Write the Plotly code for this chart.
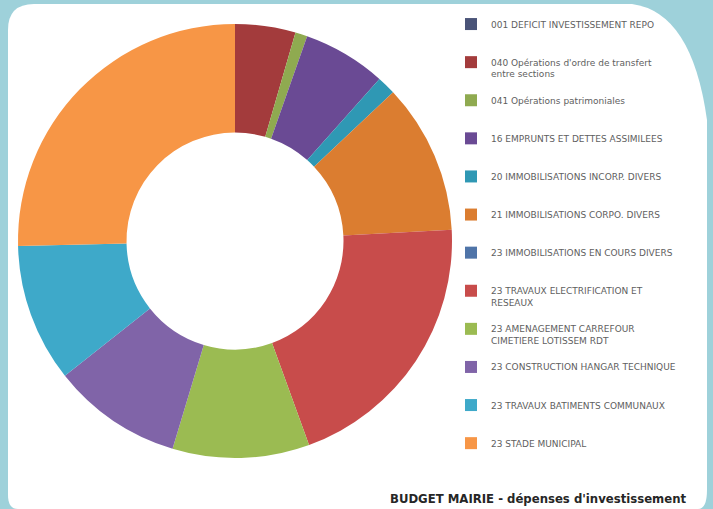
import plotly.graph_objects as go

W, H = 713, 509

labels = [
    "001 DEFICIT INVESTISSEMENT REPO",
    "040 Opérations d'ordre de transfert<br>entre sections",
    "041 Opérations patrimoniales",
    "16 EMPRUNTS ET DETTES ASSIMILEES",
    "20 IMMOBILISATIONS INCORP. DIVERS",
    "21 IMMOBILISATIONS CORPO. DIVERS",
    "23 IMMOBILISATIONS EN COURS DIVERS",
    "23 TRAVAUX ELECTRIFICATION ET<br>RESEAUX",
    "23 AMENAGEMENT CARREFOUR<br>CIMETIERE LOTISSEM RDT",
    "23 CONSTRUCTION HANGAR TECHNIQUE",
    "23 TRAVAUX BATIMENTS COMMUNAUX",
    "23 STADE MUNICIPAL",
]
values = [0, 4.5, 0.9, 6.2, 1.4, 11.2, 0, 20.3, 10.2, 9.7, 10.3, 25.4]
colors = ["#4A5478", "#A33B3C", "#8FAA50", "#6A4A94", "#2F98B4", "#DB7D30",
          "#4F74A8", "#C84C4B", "#9BBB52", "#8064A8", "#3EA9C9", "#F79646"]
title_text = "BUDGET MAIRIE - dépenses d'investissement"

# legend labels padded to 3 lines so entries are evenly spaced like the original
def pad(lbl):
    n = lbl.count("<br>") + 1
    return " <br>" + lbl + ("<br> " if n == 1 else "")

legend_labels = [pad(l) for l in labels]

fig = go.Figure(go.Pie(
    labels=legend_labels,
    values=values,
    hole=0.5,
    sort=False,
    direction="clockwise",
    rotation=0,
    textinfo="none",
    marker=dict(colors=colors, line=dict(width=0)),
    domain=dict(x=[18 / W, 452 / W], y=[1 - 458 / H, 1 - 24 / H]),
))

def P(x, y):
    return f"{x / W:.5f},{1 - y / H:.5f}"

panel = ("M " + P(18, 509) + " Q " + P(8, 509) + " " + P(8, 495) +
         " L " + P(8, 30) + " Q " + P(8, 4) + " " + P(34, 4) +
         " L " + P(632, 4) + " Q " + P(692, 12) + " " + P(707, 120) +
         " L " + P(707, 490) + " Q " + P(707, 509) + " " + P(698, 509) + " Z")

fig.update_layout(
    width=W, height=H,
    margin=dict(l=0, r=0, t=0, b=0),
    paper_bgcolor="#9ED1DA",
    plot_bgcolor="rgba(0,0,0,0)",
    font=dict(family="DejaVu Sans, Liberation Sans, Arial, sans-serif", color="#595959"),
    shapes=[dict(type="path", xref="paper", yref="paper", path=panel,
                 fillcolor="white", line=dict(width=0), layer="below")],
    showlegend=True,
    legend=dict(
        x=451 / W, xanchor="left", y=1.0, yanchor="top",
        font=dict(size=9, color="#606060"),
        bgcolor="rgba(0,0,0,0)", itemclick=False,
        tracegroupgap=0,
    ),
    annotations=[dict(
        text="<b>" + title_text + "</b>", xref="paper", yref="paper",
        x=538 / W, y=1 - 499 / H, xanchor="center", yanchor="middle",
        showarrow=False, font=dict(size=11.7, color="#262626"),
    )],
)

fig.write_html("out.html", config={"displayModeBar": False},
               post_script="document.body.style.margin='0px';")
